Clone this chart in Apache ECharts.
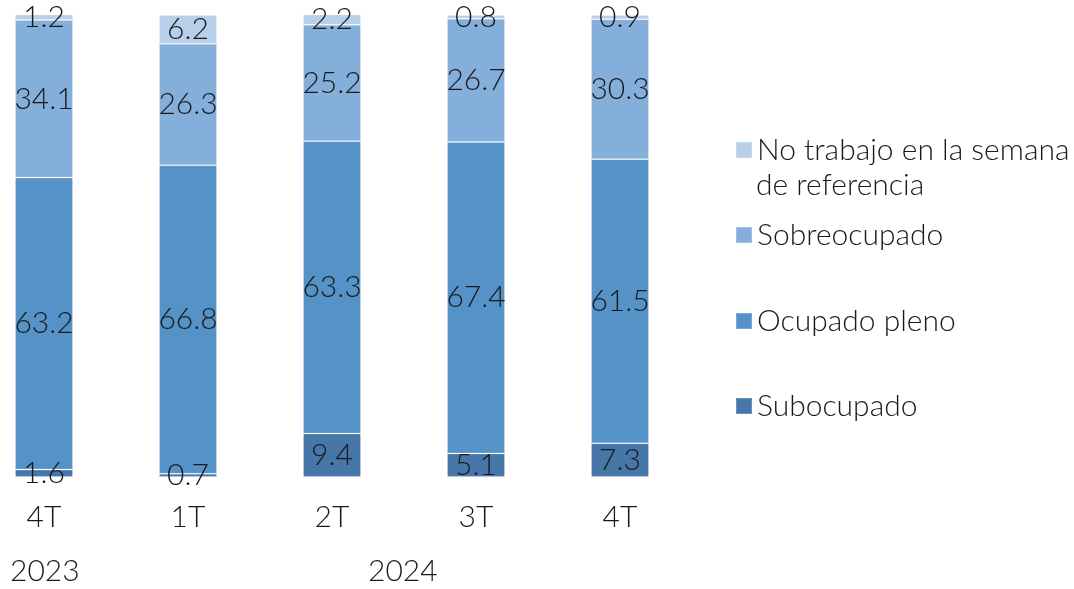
<!DOCTYPE html>
<html>
<head>
<meta charset="utf-8">
<script src="https://cdn.jsdelivr.net/npm/echarts@6/dist/echarts.min.js"></script>
<style>
  html, body { margin: 0; padding: 0; background: #fff; }
  #chart { width: 1074px; height: 589px; }
</style>
</head>
<body>
<div id="chart"></div>
<script>
// quarters and their years
const categories = ['4T', '1T', '2T', '3T', '4T']
const years = ['2023', '2024']

// shares (%) per quarter, bottom to top of stack
const subocupado = [1.6, 0.7, 9.4, 5.1, 7.3]
const ocupadoPleno = [63.2, 66.8, 63.3, 67.4, 61.5]
const sobreocupado = [34.1, 26.3, 25.2, 26.7, 30.3]
const noTrabajo = [1.2, 6.2, 2.2, 0.8, 0.9]

const FONT = 'Lato'
const TXT = '#1a1a1a'
const FS = 30

const chart = echarts.init(document.getElementById('chart'))

function makeSeries(name, data, color) {
  return {
    name: name,
    type: 'bar',
    stack: 'total',
    barWidth: 58,
    data: data,
    itemStyle: {
      color: color,
      borderColor: 'rgba(255,255,255,0.2)',
      borderWidth: 1
    },
    label: {
      show: true,
      position: 'inside',
      color: TXT,
      fontFamily: FONT,
      fontWeight: 300,
      fontSize: FS,
      formatter: p => p.value.toFixed(1)
    }
  }
}

const legendBase = {
  orient: 'vertical',
  left: 735,
  padding: 0,
  icon: 'rect',
  itemWidth: 16,
  itemHeight: 16,
  itemGap: 0,
  selectedMode: false,
  textStyle: { color: TXT, fontFamily: FONT, fontWeight: 300, fontSize: FS, lineHeight: 34 }
}

const options = {
  animation: false,
  grid: {
    left: 44,
    width: 576,
    top: 15,
    bottom: 112
  },
  legend: [
    Object.assign({}, legendBase, {
      top: 133,
      data: ['No trabajo en la semana de referencia'],
      formatter: () => 'No trabajo en la semana'
    }),
    Object.assign({}, legendBase, { top: 218, data: ['Sobreocupado'] }),
    Object.assign({}, legendBase, { top: 304, data: ['Ocupado pleno'] }),
    Object.assign({}, legendBase, { top: 389, data: ['Subocupado'] })
  ],
  xAxis: {
    type: 'category',
    boundaryGap: false,
    data: categories,
    axisLine: { show: false },
    axisTick: { show: false },
    axisLabel: {
      color: TXT,
      fontFamily: FONT,
      fontWeight: 300,
      fontSize: FS,
      margin: 25
    }
  },
  yAxis: {
    type: 'value',
    min: 0,
    max: 100,
    show: false
  },
  graphic: [
    {
      // second line of the first legend entry
      type: 'text',
      left: 756,
      top: 170,
      style: { text: 'de referencia', fill: TXT, font: '300 ' + FS + 'px ' + FONT }
    },
    {
      type: 'text',
      left: 10,
      top: 556,
      style: { text: years[0], fill: TXT, font: '300 ' + FS + 'px ' + FONT }
    },
    {
      type: 'text',
      left: 368,
      top: 556,
      style: { text: years[1], fill: TXT, font: '300 ' + FS + 'px ' + FONT }
    }
  ],
  series: [
    makeSeries('Subocupado', subocupado, '#4677a8'),
    makeSeries('Ocupado pleno', ocupadoPleno, '#5592c8'),
    makeSeries('Sobreocupado', sobreocupado, '#85afdb'),
    makeSeries('No trabajo en la semana de referencia', noTrabajo, '#b8cfe9')
  ]
}

chart.setOption(options)
</script>
</body>
</html>
